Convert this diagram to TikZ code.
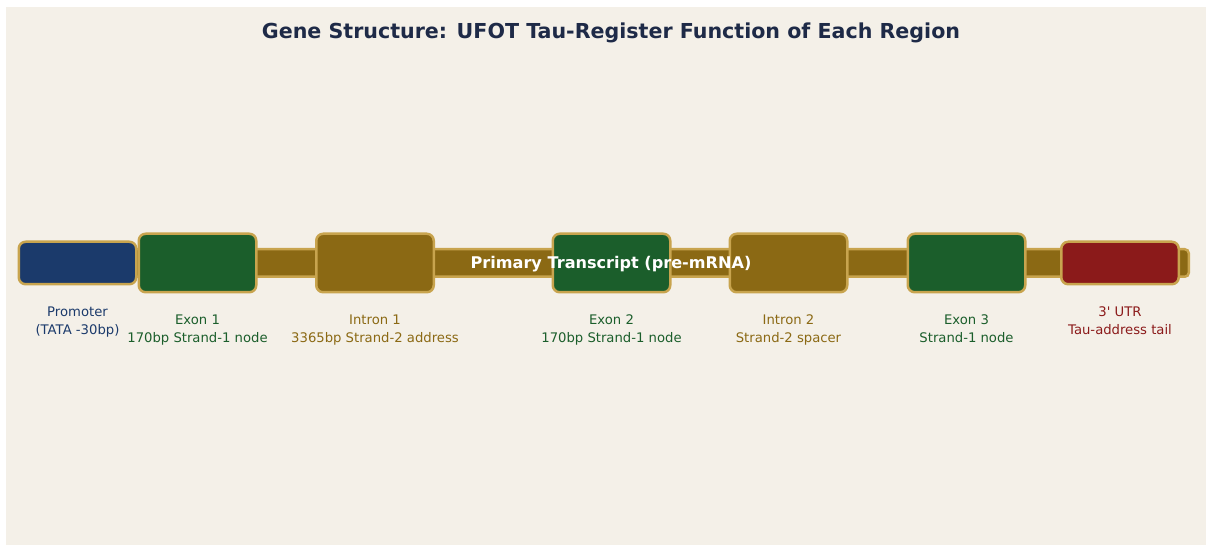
\documentclass[tikz,border=0pt]{standalone}
\usepackage{fontspec}
\setmainfont{DejaVu Sans}
\usetikzlibrary{positioning}

\definecolor{paper}{HTML}{F4F0E8}
\definecolor{rim}{HTML}{C8A44E}
\definecolor{navy}{HTML}{1B3A6B}
\definecolor{exongreen}{HTML}{1B5E2B}
\definecolor{intronbrown}{HTML}{8B6914}
\definecolor{utrred}{HTML}{8B1A1A}
\definecolor{titleink}{HTML}{1E2A47}

\begin{document}
\begin{tikzpicture}[x=1pt,y=1pt]
      \tikzset{
        node distance=58pt,
        region/.style={draw=rim, line width=2.5pt, rounded corners=7pt,
          minimum width=117.5pt, inner sep=0pt},
        big/.style={region, minimum height=58.5pt},
        small/.style={region, minimum height=42.5pt},
        lbl/.style={align=center, inner sep=0pt,
          font=\fontsize{13.2}{18}\selectfont},
      }
      \useasboundingbox (0,0) rectangle (1206,546);
      \fill[white] (0,0) rectangle (1206,546);
      \fill[paper] (6,1) rectangle (1206,539);

      \node[font=\bfseries\fontsize{20.6}{24}\selectfont, text=titleink]
        (title) at (611,513) {Gene Structure: UFOT Tau-Register Function of Each Region};

      % transcript backbone
      \node[draw=rim, fill=intronbrown, line width=2.5pt, rounded corners=4pt,
        minimum width=1167.5pt, minimum height=27.5pt, inner sep=0pt]
        (backbone) at (605,283) {};

      \node[small, fill=navy] (promoter) at (77.5,283) {};
      \node[big, fill=exongreen, right=0pt of promoter] (exon1) {};
      \node[big, fill=intronbrown, right=57.5pt of exon1] (intron1) {};
      \node[big, fill=exongreen, right=116.5pt of intron1] (exon2) {};
      \node[big, fill=intronbrown, right=57pt of exon2] (intron2) {};
      \node[big, fill=exongreen, right=58pt of intron2] (exon3) {};
      \node[small, fill=utrred, right=33.5pt of exon3] (utr) {};

      % region labels
      \node[lbl, text=navy, below=21pt of promoter] (promoterlbl) {Promoter\\(TATA -30bp)};
      \node[lbl, text=exongreen, below=21pt of exon1] (exon1lbl) {Exon 1\\170bp Strand-1 node};
      \node[lbl, text=intronbrown, below=21pt of intron1] (intron1lbl) {Intron 1\\3365bp Strand-2 address};
      \node[lbl, text=exongreen, below=21pt of exon2] (exon2lbl) {Exon 2\\170bp Strand-1 node};
      \node[lbl, text=intronbrown, below=21pt of intron2] (intron2lbl) {Intron 2\\Strand-2 spacer};
      \node[lbl, text=exongreen, below=21pt of exon3] (exon3lbl) {Exon 3\\Strand-1 node};
      \node[lbl, text=utrred, below=21pt of utr] (utrlbl) {3\textquotesingle{} UTR\\Tau-address tail};

      \node[font=\bfseries\fontsize{16.1}{19}\selectfont, text=white]
        (transcript) at (611,282) {Primary Transcript (pre-mRNA)};
\end{tikzpicture}
\end{document}
